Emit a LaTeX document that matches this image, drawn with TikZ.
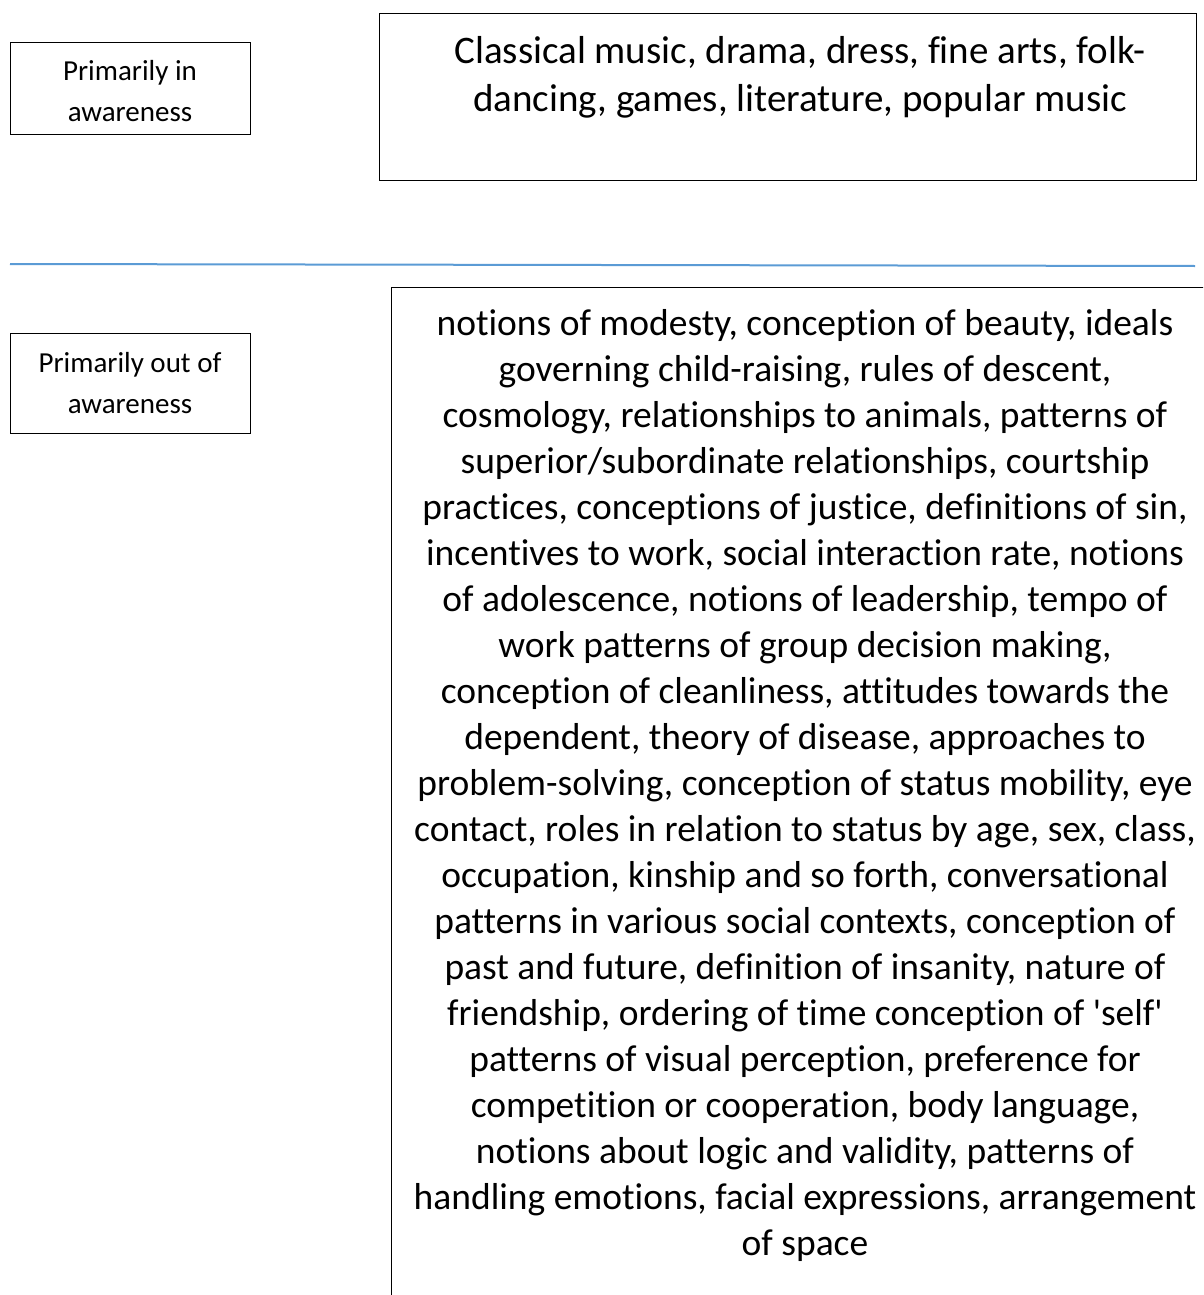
\documentclass[tikz,border=0pt]{standalone}
\usepackage{fontspec}
\setmainfont{Carlito}[Ligatures=NoCommon]
\definecolor{lineblue}{RGB}{91,155,213}
\begin{document}
\begin{tikzpicture}[x=1pt,y=-1pt,
  box/.style={draw=black, line width=1.2pt, inner sep=0pt},
  smalltext/.style={font=\fontsize{29}{41}\selectfont, align=center, inner sep=0pt, anchor=north},
  toptextstyle/.style={font=\fontsize{39}{48}\selectfont, align=center, inner sep=0pt, anchor=north},
  bigtext/.style={font=\fontsize{37.5}{46}\selectfont, align=center, inner sep=0pt, anchor=north}]
\useasboundingbox (0,0) rectangle (1203,1295);
\clip (0,0) rectangle (1203,1295);
% left labels
\node[box, minimum width=240pt, minimum height=92pt, anchor=north west] (inbox) at (10,42) {};
\node[smalltext] (intext) at (130,60.3) {Primarily in\\awareness};
\node[box, minimum width=240pt, minimum height=100pt, anchor=north west] (outbox) at (10,333) {};
\node[smalltext] (outtext) at (130,352.3) {Primarily out of\\awareness};
% top content box
\node[box, minimum width=817pt, minimum height=167pt, anchor=north west] (topbox) at (379,13) {};
\node[toptextstyle] (toptext) at (800,36.6) {Classical music, drama, dress, fine arts, folk-\\dancing, games, literature, popular music};
% divider
\coordinate (ls) at (10,264);
\coordinate (le) at (1195,266);
\draw[lineblue, line width=2pt] (ls) -- (le);
% bottom content box (runs off the page)
\node[box, minimum width=900pt, minimum height=1100pt, anchor=north west] (botbox) at (391,287) {};
\node[bigtext] (bottext) at (805,309) {notions of modesty, conception of beauty, ideals\\
governing child-raising, rules of descent,\\
cosmology, relationships to animals, patterns of\\
superior/subordinate relationships, courtship\\
practices, conceptions of justice, definitions of sin,\\
incentives to work, social interaction rate, notions\\
of adolescence, notions of leadership, tempo of\\
work patterns of group decision making,\\
conception of cleanliness, attitudes towards the\\
dependent, theory of disease, approaches to\\
problem-solving, conception of status mobility, eye\\
contact, roles in relation to status by age, sex, class,\\
occupation, kinship and so forth, conversational\\
patterns in various social contexts, conception of\\
past and future, definition of insanity, nature of\\
friendship, ordering of time conception of \textquotesingle self\textquotesingle\\
patterns of visual perception, preference for\\
competition or cooperation, body language,\\
notions about logic and validity, patterns of\\
handling emotions, facial expressions, arrangement\\
of space};
\end{tikzpicture}
\end{document}
